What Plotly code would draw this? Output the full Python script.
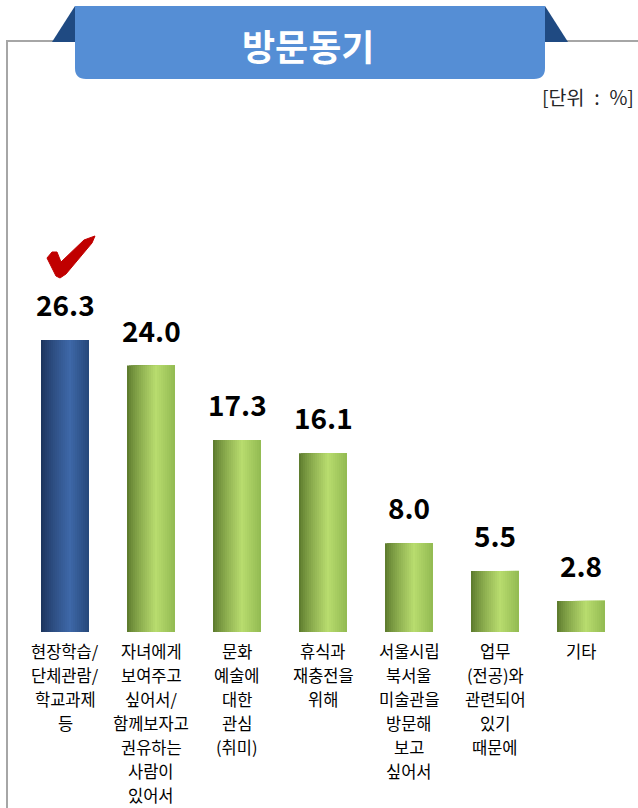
import plotly.graph_objects as go

# ---------------- data ----------------
categories = [
    "현장학습/<br>단체관람/<br>학교과제<br>등",
    "자녀에게<br>보여주고<br>싶어서/<br>함께보자고<br>권유하는<br>사람이<br>있어서",
    "문화<br>예술에<br>대한<br>관심<br>(취미)",
    "휴식과<br>재충전을<br>위해",
    "서울시립<br>북서울<br>미술관을<br>방문해<br>보고<br>싶어서",
    "업무<br>(전공)와<br>관련되어<br>있기<br>때문에",
    "기타",
]
values = [26.3, 24.0, 17.3, 16.1, 8.0, 5.5, 2.8]
highlighted = [True, False, False, False, False, False, False]
title_text = "방문동기"
unit_text = "[단위\u2002:\u2002%]"

# ---------------- layout geometry ----------------
W, H = 638, 808
L, R, T, B = 22, 14, 110, 176
PW, PH = W - L - R, H - T - B
PX_PER_UNIT = 11.1
YMAX = PH / PX_PER_UNIT

def px(x):
    return (x - L) / PW

def py(y):
    return (H - B - y) / PH

FONT = "Noto Sans CJK KR"

# gradient colours
def lerp(c1, c2, t):
    return tuple(int(round(a + (b - a) * t)) for a, b in zip(c1, c2))

def grad(dark, light, right, t):
    if t < 0.6:
        s = (t / 0.6) ** 0.8
        c = lerp(dark, light, s)
    else:
        c = lerp(light, right, (t - 0.6) / 0.4)
    return "rgb(%d,%d,%d)" % c

BLUE = ((27, 50, 90), (62, 104, 168), (38, 72, 122))
GREEN = ((88, 118, 42), (184, 220, 110), (146, 186, 82))

xs = list(range(len(values)))
bw = 48 / 86
N = 24

fig = go.Figure()
for k in range(N):
    t = (k + 0.5) / N
    cols = [grad(*(BLUE if h else GREEN), t) for h in highlighted]
    fig.add_trace(go.Bar(
        x=xs, y=values,
        width=[bw - k * bw / N] * len(xs),
        offset=[-bw / 2 + k * bw / N] * len(xs),
        marker=dict(color=cols, line=dict(width=0)),
        hoverinfo="skip", showlegend=False,
    ))

annotations = []
for x, v in zip(xs, values):
    annotations.append(dict(
        x=x, y=v, xref="x", yref="y", text="<b>%.1f</b>" % v,
        showarrow=False, yanchor="middle", yshift=36,
        font=dict(family=FONT, size=28, color="#000000"),
    ))

# category labels, one annotation per line
LINE0, LINE_STEP = 651, 24.0
for x, cat in zip(xs, categories):
    for j, line in enumerate(cat.split("<br>")):
        annotations.append(dict(
            x=x, y=py(LINE0 + j * LINE_STEP), xref="x", yref="paper",
            text=line, showarrow=False, xanchor="center", yanchor="middle",
            font=dict(family=FONT, size=16.5, color="#000000"),
        ))

annotations.append(dict(
    x=px(308), y=py(45), xref="paper", yref="paper",
    text="<b>%s</b>" % title_text, showarrow=False,
    xanchor="center", yanchor="middle",
    font=dict(family=FONT, size=36, color="#FFFFFF"),
))
annotations.append(dict(
    x=px(636), y=py(96), xref="paper", yref="paper",
    text=unit_text, showarrow=False,
    xanchor="right", yanchor="middle",
    font=dict(family=FONT, size=19.5, color="#262626"),
))

GRAY = "#A6A6A6"
shapes = [
    dict(type="line", xref="paper", yref="paper", x0=px(7), x1=px(7), y0=py(41), y1=py(810),
         line=dict(color=GRAY, width=2)),
    dict(type="line", xref="paper", yref="paper", x0=px(6), x1=px(53), y0=py(41), y1=py(41),
         line=dict(color=GRAY, width=2)),
    dict(type="line", xref="paper", yref="paper", x0=px(565), x1=px(640), y0=py(41), y1=py(41),
         line=dict(color=GRAY, width=2)),
]

# dark trapezoid behind the title box
trap = [(52, 42), (75, 6), (545, 6), (568, 42)]
path = "M " + " L ".join("%f,%f" % (px(a), py(b)) for a, b in trap) + " Z"
shapes.append(dict(type="path", xref="paper", yref="paper", path=path,
                   fillcolor="#1F4A82", line=dict(width=0)))

# title box with rounded bottom corners
x0, x1, y0, y1, r = 75, 545, 6, 79, 11
bp = (
    "M %f,%f L %f,%f L %f,%f Q %f,%f %f,%f L %f,%f Q %f,%f %f,%f Z" % (
        px(x0), py(y0), px(x1), py(y0),
        px(x1), py(y1 - r), px(x1), py(y1), px(x1 - r), py(y1),
        px(x0 + r), py(y1), px(x0), py(y1), px(x0), py(y1 - r),
    )
)
shapes.append(dict(type="path", xref="paper", yref="paper", path=bp,
                   fillcolor="#558ED5", line=dict(width=0)))

# red check mark above highlighted bar
chk = [(47, 258), (52, 252), (57, 252), (61, 262), (84, 240), (95, 236),
       (92, 243), (66, 274), (60, 278), (56, 276)]
cp = "M " + " L ".join("%f,%f" % (px(a), py(b)) for a, b in chk) + " Z"
shapes.append(dict(type="path", xref="paper", yref="paper", path=cp,
                   fillcolor="#C00000", line=dict(color="#C00000", width=1)))

fig.update_layout(
    width=W, height=H,
    margin=dict(l=L, r=R, t=T, b=B, pad=0),
    paper_bgcolor="white", plot_bgcolor="white",
    barmode="overlay",
    showlegend=False,
    xaxis=dict(
        range=[-0.5, len(values) - 0.5],
        showgrid=False, zeroline=False, showline=False, ticks="",
        showticklabels=False, fixedrange=True,
    ),
    yaxis=dict(range=[0, YMAX], visible=False, fixedrange=True),
    annotations=annotations,
    shapes=shapes,
)

fig.write_html(
    "out.html",
    config={"displayModeBar": False},
    post_script="document.body.style.margin='0';document.body.style.overflow='hidden';",
)
